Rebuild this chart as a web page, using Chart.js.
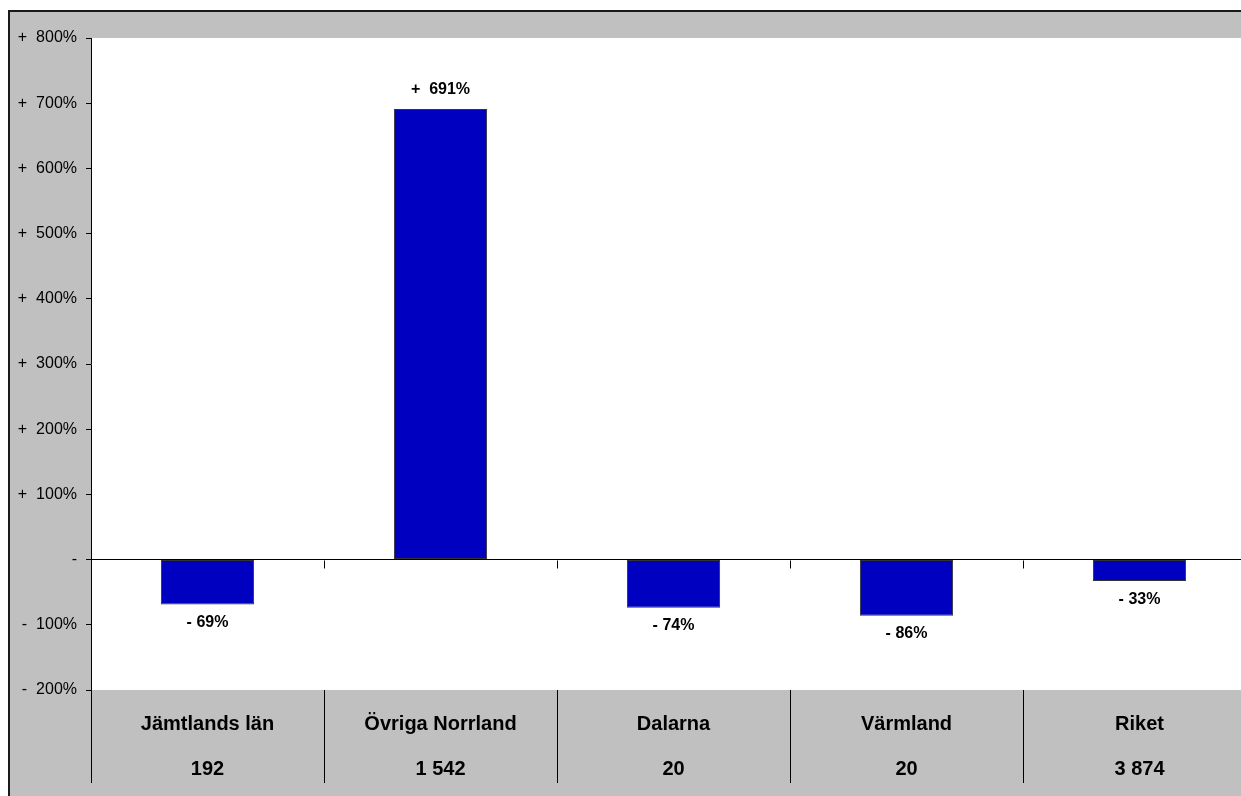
<!DOCTYPE html>
<html>
<head>
<meta charset="utf-8">
<script src="https://cdn.jsdelivr.net/npm/chart.js@4"></script>
<style>
  body { margin: 0; overflow: hidden; background: #fff; }
</style>
</head>
<body>
<canvas id="bar-chart" width="1260" height="796"></canvas>
<script>
// categories and their counts (second line under each name)
const regions = ['Jämtlands län', 'Övriga Norrland', 'Dalarna', 'Värmland', 'Riket'];
const counts = ['192', '1 542', '20', '20', '3 874'];
// percentage change
const change = [-69, 691, -74, -86, -33];
const yTicks = [800, 700, 600, 500, 400, 300, 200, 100, 0, -100, -200];

const grey = '#c0c0c0';
const fontName = "'Liberation Sans', Arial, sans-serif";

function fmtTick(v){
    if (v > 0) return '+  ' + v + '%';
    if (v < 0) return '-  ' + (-v) + '%';
    return '-';
}

function fmtLabel(v){
    return v > 0 ? '+  ' + v + '%' : '- ' + (-v) + '%';
}

const framePlugin = {
    id: 'frame',
    beforeDraw(chart){
        const c = chart.ctx, a = chart.chartArea;
        const W = chart.width, H = chart.height;
        c.save();
        c.fillStyle = '#fff';
        c.fillRect(0, 0, W, H);
        c.fillStyle = grey;
        c.fillRect(9, 11, W - 9, H - 11);
        c.fillStyle = '#fff';
        c.fillRect(a.left, a.top, W - a.left, a.bottom - a.top);
        c.strokeStyle = '#1a1a1a';
        c.lineWidth = 2;
        c.beginPath();
        c.moveTo(9, H);
        c.lineTo(9, 11);
        c.lineTo(W, 11);
        c.stroke();
        c.restore();
    },
    afterDraw(chart){
        const c = chart.ctx, a = chart.chartArea;
        const x = chart.scales.x, y = chart.scales.y;
        const step = (a.right - a.left) / regions.length;
        const zero = Math.round(y.getPixelForValue(0)) + 0.5;
        c.save();
        c.strokeStyle = '#000';
        c.lineWidth = 1;
        c.beginPath();
        // axis line goes on through the category band
        c.moveTo(a.left + 0.5, a.bottom);
        c.lineTo(a.left + 0.5, a.bottom + 93);
        for (let i = 0; i < regions.length - 1; i++) {
            const bx = Math.round(x.getPixelForValue(i) + step / 2) + 0.5;
            c.moveTo(bx, a.bottom);
            c.lineTo(bx, a.bottom + 93);
            c.moveTo(bx, zero);
            c.lineTo(bx, zero + 8);
        }
        c.stroke();

        // value labels
        c.fillStyle = '#000';
        c.font = 'bold 16px ' + fontName;
        c.textAlign = 'center';
        c.textBaseline = 'middle';
        chart.getDatasetMeta(0).data.forEach((bar, i) => {
            const v = change[i];
            const ty = v >= 0 ? bar.y - 19 : bar.y + 18;
            c.fillText(fmtLabel(v), bar.x, ty);
        });
        c.restore();
    }
};

const chart_data = {
    labels: regions.map((r, i) => [r, counts[i]]),
    datasets: [
        {
            label: 'Förändring',
            data: change,
            backgroundColor: '#0000c0',
            borderColor: '#333333',
            borderWidth: 1,
            borderSkipped: false,
            categoryPercentage: 1.0,
            barPercentage: 0.4
        }
    ]
};

const options = {
    responsive: false,
    animation: false,
    layout: { padding: { left: 0, top: 38, right: 4, bottom: 0 } },
    plugins: {
        legend: { display: false },
        tooltip: { enabled: false },
        title: { display: false }
    },
    scales: {
        x: {
            grid: { display: false },
            border: { display: false },
            ticks: {
                color: '#000',
                padding: 4,
                maxRotation: 0,
                autoSkip: false,
                font: { family: fontName, size: 20, weight: 'bold', lineHeight: '45px' }
            },
            afterFit(scale){ scale.height = 106; }
        },
        y: {
            min: -200,
            max: 800,
            afterBuildTicks(scale){
                scale.ticks = yTicks.map(v => ({ value: v }));
            },
            grid: {
                drawOnChartArea: true,
                drawTicks: true,
                tickLength: 5,
                tickColor: '#000',
                color: ctx => (ctx.tick && ctx.tick.value === 0) ? '#000' : 'rgba(0,0,0,0)'
            },
            border: { display: true, color: '#000' },
            ticks: {
                color: '#000',
                padding: 9,
                font: { family: fontName, size: 16 },
                callback: v => fmtTick(v)
            },
            afterFit(scale){ scale.width = 91; }
        }
    }
};

const group_chart1 = document.getElementById('bar-chart').getContext('2d');

const graph1 = new Chart(group_chart1, {
    type: 'bar',
    data: chart_data,
    options: options,
    plugins: [framePlugin]
});
</script>
</body>
</html>
